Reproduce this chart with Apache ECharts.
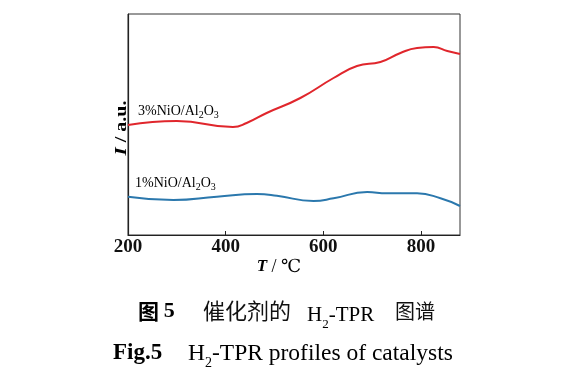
<!DOCTYPE html>
<html>
<head>
<meta charset="utf-8">
<script src="https://cdn.jsdelivr.net/npm/echarts@6/dist/echarts.min.js"></script>
<style>
  html, body { margin: 0; padding: 0; background: #fff; }
  #chart { width: 585px; height: 375px; }
</style>
</head>
<body>
<div id="chart"></div>
<script>
// 温度刻度
const xTicks = [200, 400, 600, 800];

// 3%NiO/Al2O3 曲线
const tempRed = [200, 300, 415, 443, 484, 553, 621, 669, 717, 758, 792, 826, 854, 880];
const valRed = [110, 114, 108, 112, 122, 137, 157, 169, 173, 182, 187, 188, 184, 181];

// 1%NiO/Al2O3 曲线
const tempBlue = [200, 293, 382, 464, 505, 580, 621, 690, 730, 792, 840, 880];
const valBlue = [38.3, 35, 38.3, 41, 39.3, 34, 36.7, 43, 41.7, 41.7, 36.7, 29];

const serif = '"Liberation Serif", "DejaVu Serif", serif';
const cjk = '"Noto Sans CJK SC", sans-serif';

let chart = echarts.init(document.getElementById('chart'));

// 下标用的富文本样式，全部顶对齐，下标靠 padding 下沉
function subStyle(F, f, p, extra) {
  return {
    n: Object.assign({ fontFamily: serif, fontSize: F, lineHeight: F, verticalAlign: 'top', color: '#111' }, extra || {}),
    s: { fontFamily: serif, fontSize: f, lineHeight: f, verticalAlign: 'top', padding: [p, 0, 0, 0], color: '#111' }
  };
}

let option = {
  animation: false,
  grid: {
    left: 128, right: 125, top: 14, bottom: 140,
    show: true, borderColor: '#333', borderWidth: 1
  },
  xAxis: {
    type: 'value',
    min: 200,
    max: 880,
    interval: 200,
    axisLine: { lineStyle: { color: '#222', width: 1.2 } },
    axisTick: { inside: true, length: 4, customValues: xTicks, lineStyle: { color: '#222' } },
    axisLabel: {
      customValues: xTicks,
      fontFamily: serif, fontWeight: 'bold', fontSize: 19, color: '#111', margin: 3
    },
    splitLine: { show: false }
  },
  yAxis: {
    type: 'value',
    min: 0,
    max: 221,
    axisLine: { show: true, lineStyle: { color: '#222', width: 1.2 } },
    axisTick: { show: false },
    axisLabel: { show: false },
    splitLine: { show: false }
  },
  series: [
    {
      name: '3%NiO/Al2O3',
      type: 'line',
      smooth: 0.5,
      symbol: 'none',
      data: tempRed.map((t, i) => [t, valRed[i]]),
      lineStyle: { color: '#e0262c', width: 2 }
    },
    {
      name: '1%NiO/Al2O3',
      type: 'line',
      smooth: 0.5,
      symbol: 'none',
      data: tempBlue.map((t, i) => [t, valBlue[i]]),
      lineStyle: { color: '#2b78ad', width: 2 }
    }
  ],
  graphic: [
    {
      type: 'text', x: 138, y: 104,
      style: { text: '{n|3%NiO/Al}{s|2}{n|O}{s|3}', rich: subStyle(14, 10, 6) }
    },
    {
      type: 'text', x: 135, y: 176,
      style: { text: '{n|1%NiO/Al}{s|2}{n|O}{s|3}', rich: subStyle(14, 10, 6) }
    },
    {
      // y 轴名称，沿文字方向拉长一点
      type: 'text', x: 122, y: 128, rotation: Math.PI / 2, scaleX: 1.25,
      style: {
        text: '{i|I}{n| / a.u.}',
        align: 'center', verticalAlign: 'middle',
        rich: {
          i: { fontFamily: serif, fontStyle: 'italic', fontWeight: 'bold', fontSize: 17, color: '#111' },
          n: { fontFamily: serif, fontWeight: 'bold', fontSize: 16, color: '#111' }
        }
      }
    },
    {
      // x 轴名称
      type: 'text', x: 279, y: 267,
      style: {
        text: '{i|T}{n| / ℃}',
        align: 'center', verticalAlign: 'middle',
        rich: {
          i: { fontFamily: serif, fontStyle: 'italic', fontWeight: 'bold', fontSize: 17, color: '#111' },
          n: { fontFamily: serif, fontSize: 18, color: '#111' }
        }
      }
    },
    // 中文图题
    {
      type: 'text', x: 138, y: 311,
      style: {
        text: '{c|图 }{d|5}', verticalAlign: 'middle',
        rich: {
          c: { fontFamily: cjk, fontWeight: 'bold', fontSize: 21, color: '#111' },
          d: { fontFamily: serif, fontWeight: 'bold', fontSize: 22, color: '#111' }
        }
      }
    },
    {
      type: 'text', x: 203, y: 311,
      style: { text: '催化剂的', verticalAlign: 'middle', fontFamily: cjk, fontSize: 22, fill: '#111' }
    },
    {
      type: 'text', x: 307, y: 305,
      style: { text: '{n|H}{s|2}{n|-TPR}', rich: subStyle(21, 13, 13) }
    },
    {
      type: 'text', x: 395, y: 311,
      style: { text: '图谱', verticalAlign: 'middle', fontFamily: cjk, fontSize: 20, fill: '#111' }
    },
    // 英文图题
    {
      type: 'text', x: 113, y: 342,
      style: { text: '{n|Fig.5}', rich: subStyle(23, 14, 14, { fontWeight: 'bold' }) }
    },
    {
      type: 'text', x: 188, y: 342,
      style: { text: '{n|H}{s|2}{n|-TPR profiles of catalysts}', rich: subStyle(23.5, 14, 14) }
    }
  ]
};

chart.setOption(option);
</script>
</body>
</html>
